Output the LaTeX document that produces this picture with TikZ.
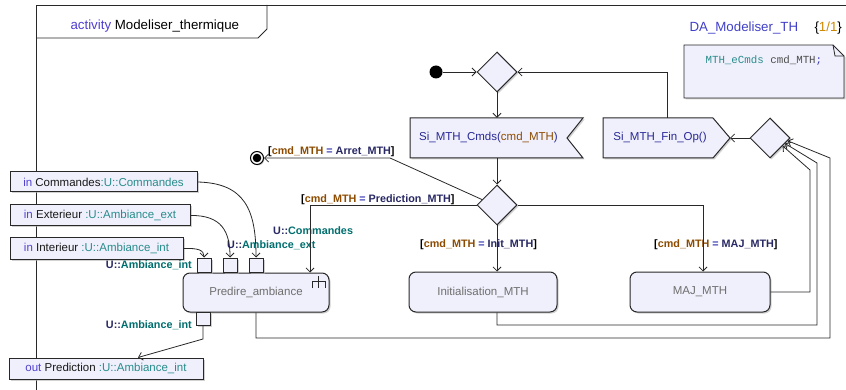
\documentclass[tikz,border=0pt]{standalone}
\usepackage{fontspec}
\setmainfont{Liberation Sans}
\setmonofont{Liberation Mono}
\usetikzlibrary{arrows.meta,shapes.geometric,shadows,calc}
\definecolor{kw}{RGB}{80,64,208}
\definecolor{dablue}{RGB}{64,64,200}
\definecolor{orangeC}{RGB}{204,136,0}
\definecolor{sig}{RGB}{40,40,150}
\definecolor{brownC}{RGB}{140,75,0}
\definecolor{navy}{RGB}{40,40,100}
\definecolor{eqblue}{RGB}{60,60,180}
\definecolor{tealC}{RGB}{0,110,110}
\definecolor{tealL}{RGB}{40,140,140}
\definecolor{grayT}{RGB}{110,110,110}
\definecolor{fillC}{RGB}{240,240,252}
\definecolor{lineC}{RGB}{40,40,40}
\newcommand{\guardtxt}[1]{[\textcolor{brownC}{cmd\_MTH} \textcolor{eqblue}{=} \textcolor{navy}{#1}]}
\newcommand{\pintxt}[1]{\textcolor{navy}{U::}\textcolor{tealC}{#1}}
\newcommand{\paramtxt}[3]{\textcolor{kw}{#1} #2\textcolor{tealL}{#3}}
\begin{document}
\begin{tikzpicture}[x=1pt,y=-1pt,
  line/.style={draw=lineC, line width=0.8pt},
  arr/.style={line, -{Straight Barb[length=4pt,width=8pt]}},
  shp/.style={draw=lineC, line width=1pt, fill=fillC,
    drop shadow={shadow xshift=1.5pt,shadow yshift=-1.5pt,fill=black!30,opacity=.6}},
  txt/.style={font=\fontsize{11.5}{13}\selectfont},
  gtxt/.style={font=\bfseries\fontsize{10.8}{12}\selectfont},
  act/.style={shp, txt, rectangle, rounded corners=7pt, text=grayT, inner sep=0pt},
  param/.style={shp, txt, rectangle, inner sep=0pt, text=black!90},
  pin/.style={shp, rectangle, inner sep=0pt, minimum width=14pt, minimum height=14pt},
  diam/.style={shp, diamond, aspect=1, inner sep=0pt, minimum width=40pt, minimum height=40pt}
]
\useasboundingbox (0,0) rectangle (846,390);
% frame
\draw[line] (36,392) -- (36,5) -- (848,5);
\draw[line] (36,38) -- (258,38) -- (267,29) -- (267,5);
\node[anchor=base west, font=\fontsize{13.3}{15}\selectfont] (title) at (67,30)
  {\textcolor{kw}{activity} Modeliser\_thermique};
\node[anchor=base west, font=\fontsize{13.3}{15}\selectfont, text=dablue] (da) at (686,32) {DA\_Modeliser\_TH};
\node[anchor=base west, font=\fontsize{13.3}{15}\selectfont] (pg) at (811,32) {\{\textcolor{orangeC}{1/1}\}};
% note
\draw[shp, line width=0.8pt] (684,45) -- (833,45) -- (844,56) -- (844,98) -- (684,98) -- cycle;
\draw[line] (833,45) -- (835,56) -- (844,56);
\node[anchor=west, font=\ttfamily\fontsize{10.8}{12}\selectfont] (notetext) at (702,61)
  {\textcolor{tealL}{MTH\_eCmds} \textcolor{black!70}{cmd\_MTH}\textcolor{eqblue}{;}};
% initial node and first diamond
\node[circle, fill=black, minimum size=13pt, inner sep=0pt] (start) at (436,72) {};
\node[diam] (d1) at (497,72) {};
% accept event
\draw[shp] (410,118) -- (583,118) -- (567,138) -- (583,158) -- (410,158) -- cycle;
\node[txt, text=sig, minimum width=157pt, minimum height=40pt, inner sep=0pt] (cmds) at (488.5,138)
  {Si\_MTH\_Cmds(\textcolor{brownC}{cmd\_MTH})};
% send signal
\draw[shp] (603,118) -- (713,118) -- (730,138) -- (713,158) -- (603,158) -- cycle;
\node[txt, text=sig, minimum width=110pt, minimum height=40pt, inner sep=0pt] (fin) at (660,138)
  {Si\_MTH\_Fin\_Op()};
\coordinate (finTip) at (730,138);
% merge diamond
\node[diam] (d2) at (770,138) {};
% decision diamond
\node[diam] (d3) at (497,205) {};
% final node
\node[circle, draw=black, line width=1pt, fill=white, minimum size=13pt, inner sep=0pt,
  drop shadow={shadow xshift=1pt,shadow yshift=-1pt,fill=black!30,opacity=.6}] (final) at (257,158) {};
\fill (final.center) circle (4.3);
% actions
\node[act, minimum width=146pt, minimum height=39pt] (pred) at (256,292.5) {Predire\_ambiance};
\draw[line] (318,276) -- (318,288) (312,288) -- (312,281.5) -- (325,281.5) -- (325,288);
\node[act, minimum width=148pt, minimum height=40pt] (init) at (483,292) {Initialisation\_MTH};
\node[act, minimum width=140pt, minimum height=40pt] (maj) at (700,292) {MAJ\_MTH};
% pins
\node[pin] (p1) at (204,265) {};
\node[pin] (p2) at (230,265) {};
\node[pin] (p3) at (256,265) {};
\node[pin, minimum height=13pt] (pb) at (203,318.5) {};
% parameters
\node[param, minimum width=187pt, minimum height=20pt] (pcmd) at (103.5,182) {\paramtxt{in}{Commandes}{:U::Commandes}};
\node[param, minimum width=180pt, minimum height=21pt] (pext) at (100,215.5) {\paramtxt{in}{Exterieur }{:U::Ambiance\_ext}};
\node[param, minimum width=173pt, minimum height=21pt] (pint) at (96.5,248.5) {\paramtxt{in}{Interieur }{:U::Ambiance\_int}};
\node[param, minimum width=194pt, minimum height=21pt] (pout) at (106,368.5) {\paramtxt{out}{Prediction }{:U::Ambiance\_int}};
% pin labels
\node[gtxt, anchor=east, inner sep=0pt] (l1) at (192,265) {\pintxt{Ambiance\_int}};
\node[gtxt, anchor=west, inner sep=0pt] (l2) at (227,245) {\pintxt{Ambiance\_ext}};
\node[gtxt, anchor=west, inner sep=0pt] (l3) at (273,231) {\pintxt{Commandes}};
\node[gtxt, anchor=east, inner sep=0pt] (lb) at (192,325) {\pintxt{Ambiance\_int}};
% guard labels
\node[gtxt, anchor=west, inner sep=0pt] (gA) at (268,152) {\guardtxt{Arret\_MTH}};
\node[gtxt, anchor=west, inner sep=0pt] (gP) at (301,200) {\guardtxt{Prediction\_MTH}};
\node[gtxt, anchor=west, inner sep=0pt] (gI) at (420,245) {\guardtxt{Init\_MTH}};
\node[gtxt, anchor=west, inner sep=0pt] (gM) at (654,245) {\guardtxt{MAJ\_MTH}};
% connectors
\draw[arr] (start) -- (d1.west);
\draw[arr] (d1.south) -- (d1.south |- cmds.north);
\draw[arr] (d1.south |- cmds.south) -- (d3.north);
\draw[arr] ([xshift=7]fin.north) |- (d1.east);
\draw[arr] (d2.west) -- (finTip);
\coordinate (bA) at (390,158);
\draw[arr] (d3.160) -- (bA) -- (final.east);
\draw[arr] (d3.west) -| ([xshift=54]pred.north);
\draw[arr] (d3.south) -- (d3.south |- init.north);
\draw[arr] (d3.east) -| ([xshift=3]maj.north);
\draw[arr] (maj.east) -| (810,170) -- (d2.-32);
\draw[arr] (d3.south |- init.south) -- (497,325) -| (817,163) -- (d2.-20);
\draw[arr] (pred.south) -- (256,338) -| (830,158) -- (d2.-9);
\draw[arr] (pcmd.east) .. controls (245,183) and (256,210) .. (p3.north);
\draw[arr] (pext.east) .. controls (222,215) and (230,232) .. (p2.north);
\draw[arr] (pint.east) .. controls (198,248) and (204,250) .. (p1.north);
\draw[arr] (pb.south) -- (203,339) -- ([xshift=32]pout.north);
\end{tikzpicture}
\end{document}
